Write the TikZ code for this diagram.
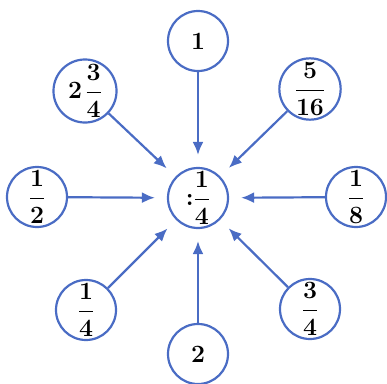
\documentclass[tikz,border=0pt]{standalone}
\usepackage{amsmath}
\usepackage{tikz}
\usetikzlibrary{arrows.meta}

\definecolor{numblue}{RGB}{74,108,196}

\begin{document}
\begin{tikzpicture}[
    x=1pt, y=-1pt,
    num/.style={circle, draw=numblue, line width=2.2pt, minimum size=60pt, inner sep=0pt,
        font=\fontsize{25}{30}\selectfont\boldmath},
    arrow/.style={-{Latex[length=13pt,width=11pt]}, draw=numblue, line width=2.2pt, shorten >=12pt}
]
    \useasboundingbox (0,0) rectangle (387,383);

    % centre
    \node[num] (div) at (198,198) {$\displaystyle {:}\frac{1}{4}$};

    % operands
    \node[num] (top) at (198,41) {$1$};
    \node[num] (topleft) at (85,91) {$\displaystyle 2\mkern2mu\frac{3}{4}$};
    \node[num] (topright) at (310,89) {$\displaystyle \frac{5}{16}$};
    \node[num] (left) at (37,197) {$\displaystyle \frac{1}{2}$};
    \node[num] (right) at (356,197) {$\displaystyle \frac{1}{8}$};
    \node[num] (botleft) at (86,310) {$\displaystyle \frac{1}{4}$};
    \node[num] (botright) at (310,309) {$\displaystyle \frac{3}{4}$};
    \node[num] (bot) at (198,354) {$2$};

    \draw[arrow] (top) -- (div);
    \draw[arrow] (topleft) -- (div);
    \draw[arrow] (topright) -- (div);
    \draw[arrow] (left) -- (div);
    \draw[arrow] (right) -- (div);
    \draw[arrow] (botleft) -- (div);
    \draw[arrow] (botright) -- (div);
    \draw[arrow] (bot) -- (div);
\end{tikzpicture}
\end{document}
